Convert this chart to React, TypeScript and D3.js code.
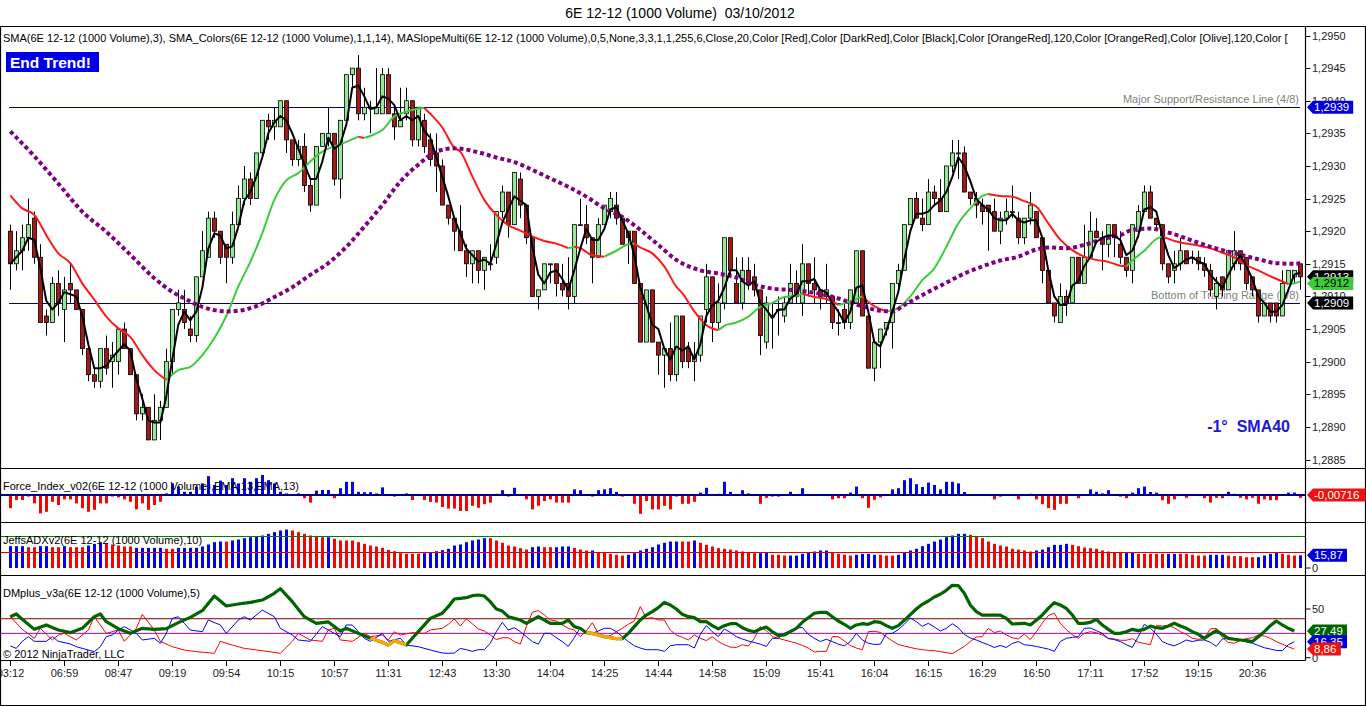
import * as d3 from 'd3';

const W = 1366;
const H = 706;
const FONT = "'Liberation Sans', Arial, Helvetica, sans-serif";

// 1000-volume bars, [open, high, low, close]
const candles: [number, number, number, number][] = [
  [1.2920,1.2921,1.2911,1.2915],[1.2915,1.2920,1.2914,1.2917],[1.2917,1.2921,1.2914,1.2919],[1.2919,1.2925,1.2917,1.2921],
  [1.2922,1.2923,1.2915,1.2916],[1.2916,1.2918,1.2906,1.2906],[1.2907,1.2908,1.2904,1.2906],[1.2906,1.2913,1.2906,1.2912],
  [1.2912,1.2914,1.2907,1.2909],[1.2908,1.2913,1.2903,1.2911],[1.2912,1.2915,1.2909,1.2911],[1.2911,1.2911,1.2908,1.2908],
  [1.2908,1.2908,1.2901,1.2902],[1.2902,1.2902,1.2897,1.2898],[1.2898,1.2899,1.2896,1.2897],[1.2897,1.2902,1.2896,1.2902],
  [1.2902,1.2904,1.2898,1.2899],[1.2900,1.2903,1.2896,1.2901],[1.2900,1.2905,1.2898,1.2905],[1.2905,1.2906,1.2902,1.2902],
  [1.2902,1.2902,1.2898,1.2898],[1.2898,1.2898,1.2891,1.2892],[1.2892,1.2895,1.2891,1.2893],[1.2893,1.2893,1.2888,1.2888],
  [1.2888,1.2895,1.2888,1.2891],[1.2891,1.2894,1.2888,1.2893],[1.2893,1.2902,1.2893,1.2900],[1.2900,1.2908,1.2898,1.2908],
  [1.2908,1.2911,1.2907,1.2909],[1.2908,1.2911,1.2905,1.2906],[1.2905,1.2907,1.2903,1.2904],[1.2904,1.2913,1.2903,1.2913],
  [1.2913,1.2920,1.2913,1.2917],[1.2916,1.2923,1.2916,1.2922],[1.2922,1.2923,1.2919,1.2920],[1.2920,1.2920,1.2915,1.2916],
  [1.2918,1.2918,1.2912,1.2916],[1.2916,1.2923,1.2915,1.2921],[1.2921,1.2927,1.2921,1.2925],[1.2925,1.2930,1.2924,1.2928],
  [1.2928,1.2929,1.2924,1.2925],[1.2925,1.2932,1.2925,1.2932],[1.2932,1.2937,1.2932,1.2937],[1.2937,1.2938,1.2934,1.2936],
  [1.2936,1.2939,1.2934,1.2937],[1.2936,1.2940,1.2936,1.2940],[1.2940,1.2940,1.2932,1.2934],[1.2934,1.2934,1.2930,1.2931],
  [1.2931,1.2934,1.2930,1.2933],[1.2933,1.2935,1.2926,1.2927],[1.2927,1.2928,1.2923,1.2924],[1.2924,1.2933,1.2924,1.2933],
  [1.2933,1.2935,1.2933,1.2935],[1.2934,1.2939,1.2933,1.2935],[1.2935,1.2935,1.2927,1.2928],[1.2928,1.2937,1.2925,1.2937],
  [1.2937,1.2944,1.2937,1.2944],[1.2944,1.2945,1.2942,1.2945],[1.2945,1.2947,1.2937,1.2938],[1.2938,1.2942,1.2937,1.2939],
  [1.2939,1.2940,1.2935,1.2939],[1.2938,1.2945,1.2938,1.2939],[1.2938,1.2945,1.2938,1.2944],[1.2944,1.2945,1.2938,1.2938],
  [1.2938,1.2939,1.2934,1.2936],[1.2936,1.2942,1.2936,1.2937],[1.2938,1.2942,1.2937,1.2940],[1.2940,1.2940,1.2933,1.2934],
  [1.2934,1.2939,1.2933,1.2939],[1.2937,1.2938,1.2932,1.2933],[1.2934,1.2935,1.2930,1.2931],[1.2932,1.2935,1.2926,1.2930],
  [1.2930,1.2931,1.2924,1.2924],[1.2924,1.2924,1.2921,1.2922],[1.2922,1.2922,1.2917,1.2920],[1.2920,1.2924,1.2917,1.2917],
  [1.2917,1.2918,1.2913,1.2915],[1.2915,1.2917,1.2912,1.2917],[1.2917,1.2917,1.2912,1.2914],[1.2914,1.2916,1.2911,1.2916],
  [1.2915,1.2918,1.2914,1.2915],[1.2916,1.2923,1.2915,1.2923],[1.2923,1.2927,1.2922,1.2926],[1.2926,1.2926,1.2919,1.2921],
  [1.2921,1.2929,1.2921,1.2929],[1.2928,1.2929,1.2922,1.2924],[1.2924,1.2924,1.2918,1.2919],[1.2919,1.2919,1.2910,1.2910],
  [1.2910,1.2911,1.2908,1.2911],[1.2911,1.2915,1.2911,1.2915],[1.2915,1.2915,1.2912,1.2915],[1.2915,1.2915,1.2910,1.2912],
  [1.2912,1.2915,1.2910,1.2911],[1.2912,1.2916,1.2908,1.2910],[1.2910,1.2921,1.2909,1.2921],[1.2921,1.2925,1.2921,1.2921],
  [1.2921,1.2924,1.2918,1.2919],[1.2919,1.2919,1.2912,1.2916],[1.2916,1.2922,1.2916,1.2921],[1.2921,1.2924,1.2921,1.2924],
  [1.2923,1.2926,1.2922,1.2925],[1.2924,1.2926,1.2921,1.2922],[1.2922,1.2922,1.2918,1.2918],[1.2920,1.2920,1.2915,1.2919],
  [1.2920,1.2920,1.2912,1.2912],[1.2912,1.2912,1.2903,1.2903],[1.2903,1.2911,1.2903,1.2911],[1.2911,1.2911,1.2903,1.2903],
  [1.2903,1.2903,1.2898,1.2901],[1.2901,1.2902,1.2896,1.2902],[1.2902,1.2906,1.2897,1.2898],[1.2898,1.2907,1.2897,1.2907],
  [1.2907,1.2907,1.2899,1.2900],[1.2902,1.2903,1.2899,1.2900],[1.2900,1.2903,1.2897,1.2901],[1.2901,1.2907,1.2900,1.2907],
  [1.2908,1.2915,1.2906,1.2913],[1.2913,1.2913,1.2903,1.2906],[1.2906,1.2912,1.2905,1.2909],[1.2909,1.2919,1.2908,1.2919],
  [1.2919,1.2919,1.2913,1.2914],[1.2912,1.2916,1.2909,1.2909],[1.2909,1.2916,1.2908,1.2914],[1.2914,1.2916,1.2911,1.2912],
  [1.2913,1.2915,1.2910,1.2911],[1.2911,1.2911,1.2901,1.2904],[1.2903,1.2910,1.2902,1.2909],[1.2907,1.2909,1.2902,1.2907],
  [1.2908,1.2910,1.2904,1.2908],[1.2907,1.2910,1.2906,1.2909],[1.2909,1.2915,1.2909,1.2912],[1.2912,1.2914,1.2909,1.2910],
  [1.2909,1.2918,1.2907,1.2915],[1.2915,1.2915,1.2910,1.2912],[1.2912,1.2916,1.2909,1.2911],[1.2911,1.2911,1.2908,1.2910],
  [1.2910,1.2915,1.2909,1.2911],[1.2910,1.2910,1.2905,1.2906],[1.2906,1.2908,1.2904,1.2906],[1.2908,1.2909,1.2905,1.2906],
  [1.2906,1.2911,1.2905,1.2911],[1.2909,1.2917,1.2909,1.2917],[1.2917,1.2917,1.2907,1.2907],[1.2907,1.2907,1.2899,1.2899],
  [1.2899,1.2903,1.2897,1.2903],[1.2903,1.2905,1.2899,1.2905],[1.2905,1.2906,1.2904,1.2906],[1.2906,1.2912,1.2902,1.2912],
  [1.2912,1.2915,1.2911,1.2914],[1.2914,1.2921,1.2914,1.2921],[1.2921,1.2925,1.2921,1.2925],[1.2925,1.2926,1.2922,1.2922],
  [1.2922,1.2925,1.2920,1.2921],[1.2921,1.2928,1.2921,1.2926],[1.2926,1.2927,1.2924,1.2925],[1.2925,1.2928,1.2923,1.2923],
  [1.2923,1.2930,1.2923,1.2930],[1.2930,1.2934,1.2929,1.2932],[1.2932,1.2934,1.2928,1.2932],[1.2932,1.2933,1.2926,1.2926],
  [1.2926,1.2926,1.2924,1.2925],[1.2925,1.2926,1.2922,1.2924],[1.2924,1.2925,1.2921,1.2923],[1.2924,1.2924,1.2917,1.2923],
  [1.2923,1.2925,1.2920,1.2920],[1.2920,1.2923,1.2918,1.2922],[1.2922,1.2925,1.2921,1.2923],[1.2923,1.2927,1.2922,1.2923],
  [1.2922,1.2923,1.2918,1.2919],[1.2919,1.2922,1.2918,1.2922],[1.2922,1.2926,1.2921,1.2924],[1.2923,1.2923,1.2919,1.2919],
  [1.2919,1.2919,1.2912,1.2914],[1.2914,1.2914,1.2909,1.2909],[1.2909,1.2909,1.2906,1.2907],[1.2906,1.2912,1.2906,1.2910],
  [1.2910,1.2911,1.2907,1.2909],[1.2909,1.2916,1.2909,1.2916],[1.2916,1.2916,1.2912,1.2912],[1.2912,1.2921,1.2912,1.2916],
  [1.2916,1.2923,1.2916,1.2920],[1.2920,1.2922,1.2919,1.2919],[1.2919,1.2920,1.2914,1.2918],[1.2918,1.2921,1.2916,1.2921],
  [1.2921,1.2921,1.2916,1.2919],[1.2918,1.2920,1.2915,1.2916],[1.2916,1.2916,1.2913,1.2914],[1.2914,1.2921,1.2912,1.2921],
  [1.2920,1.2924,1.2919,1.2923],[1.2923,1.2927,1.2923,1.2926],[1.2926,1.2927,1.2922,1.2922],[1.2922,1.2922,1.2920,1.2921],
  [1.2921,1.2921,1.2914,1.2915],[1.2915,1.2915,1.2912,1.2913],[1.2914,1.2917,1.2912,1.2915],[1.2915,1.2919,1.2914,1.2917],
  [1.2917,1.2917,1.2915,1.2915],[1.2916,1.2917,1.2915,1.2916],[1.2916,1.2917,1.2914,1.2915],[1.2915,1.2916,1.2913,1.2914],
  [1.2914,1.2915,1.2910,1.2911],[1.2910,1.2913,1.2908,1.2912],[1.2913,1.2913,1.2910,1.2911],[1.2911,1.2917,1.2911,1.2917],
  [1.2915,1.2920,1.2914,1.2917],[1.2917,1.2917,1.2914,1.2915],[1.2916,1.2916,1.2911,1.2912],[1.2913,1.2913,1.2910,1.2911],
  [1.2911,1.2911,1.2906,1.2907],[1.2907,1.2909,1.2907,1.2909],[1.2909,1.2909,1.2906,1.2907],[1.2909,1.2909,1.2906,1.2907],
  [1.2907,1.2914,1.2907,1.2912],[1.2912,1.2914,1.2912,1.2914],[1.2913,1.2914,1.2912,1.2914],[1.2915,1.2915,1.2911,1.2913],
];

// SMA_Colors (14) line, read as [bar, price]
const maLine: [number, number][] = [
  [0,1.29255],[2,1.29235],[4,1.29225],[6,1.29194],[8,1.29166],[10,1.29151],[12,1.2912],[14,1.29095],[16,1.29069],
  [18,1.29051],[20,1.29038],[22,1.2901],[24,1.28987],[26,1.28972],[28,1.28987],[30,1.28992],[32,1.2901],[34,1.29036],
  [36,1.2907],[38,1.29115],[40,1.29153],[42,1.29197],[44,1.29248],[46,1.29278],[48,1.29289],[50,1.29307],[52,1.29322],
  [54,1.2933],[56,1.29337],[58,1.29345],[59,1.29343],[60,1.29346],[62,1.29355],[64,1.29376],[66,1.29383],[68,1.29388],
  [69,1.29389],[70,1.2938],[72,1.29359],[74,1.29328],[75,1.29322],[77,1.29284],[79,1.29248],[81,1.29225],[83,1.29209],
  [85,1.29201],[87,1.29192],[89,1.29185],[91,1.29181],[93,1.29174],[94,1.29176],[95,1.29174],[97,1.29163],[99,1.29161],
  [101,1.2917],[103,1.2918],[104,1.29181],[105,1.29175],[107,1.29166],[109,1.29146],[111,1.29115],[112,1.29105],
  [114,1.29077],[116,1.29056],[118,1.29048],[119,1.29055],[121,1.2906],[123,1.29069],[125,1.29084],[127,1.2909],
  [129,1.29099],[131,1.29101],[132,1.29104],[134,1.29099],[136,1.29096],[138,1.29087],[140,1.29092],[142,1.291],
  [144,1.29085],[146,1.29077],[148,1.29082],[150,1.291],[152,1.29125],[154,1.29143],[156,1.29176],[158,1.29212],
  [160,1.29235],[162,1.29254],[163,1.29257],[165,1.29254],[167,1.29253],[169,1.29246],[171,1.29238],[173,1.29212],
  [175,1.29187],[177,1.29171],[179,1.29161],[181,1.29156],[183,1.29153],[185,1.29147],[186,1.29146],[187,1.29155],
  [189,1.2917],[191,1.29188],[192,1.29192],[194,1.29185],[196,1.29181],[198,1.29178],[200,1.29174],[202,1.29167],
  [204,1.2916],[206,1.29148],[208,1.2914],[210,1.29131],[212,1.29123],[213,1.29119],[214,1.2912],[215,1.29123],
];

// MASlopeMulti slow average (purple dots), [bar, price]
const slowMa: [number, number][] = [
  [0,1.29353],[4,1.29315],[8,1.29273],[12,1.2923],[16,1.29199],[20,1.29164],[24,1.29128],[27,1.29107],[29,1.29097],
  [32,1.29084],[34,1.29079],[36,1.29077],[38,1.29078],[41,1.29085],[44,1.29099],[47,1.29114],[50,1.29133],[53,1.29151],
  [56,1.29176],[59,1.29207],[62,1.2924],[65,1.29276],[68,1.29302],[71,1.29322],[74,1.29327],[78,1.29321],[81,1.29313],
  [84,1.29306],[87,1.29294],[90,1.29281],[93,1.29268],[96,1.29253],[99,1.29235],[102,1.29222],[105,1.29202],[108,1.29179],
  [111,1.29156],[115,1.2914],[118,1.29135],[121,1.29129],[124,1.29118],[127,1.29112],[130,1.2911],[133,1.29107],
  [136,1.29102],[139,1.29094],[142,1.29085],[145,1.29078],[147,1.29077],[149,1.29087],[150,1.29092],[153,1.29107],
  [156,1.29121],[159,1.29135],[162,1.29146],[165,1.29155],[168,1.29161],[171,1.29172],[173,1.29175],[176,1.29174],
  [179,1.29179],[182,1.29188],[185,1.29194],[187,1.29202],[190,1.29204],[193,1.29198],[196,1.29189],[199,1.29179],
  [202,1.29171],[205,1.29164],[208,1.29157],[211,1.29151],[214,1.2915],[215,1.29151],
];

const priceTicks = [1.2885, 1.289, 1.2895, 1.29, 1.2905, 1.291, 1.2915, 1.292, 1.2925, 1.293, 1.2935, 1.294, 1.2945, 1.295];
const majorLevel = 1.2939;
const bottomLevel = 1.2909;

const forceIdx: number[] = [
  -0.033,-0.0125,-0.0125,-0.004,-0.021,-0.046,-0.042,-0.017,-0.025,-0.011,-0.011,-0.021,-0.033,-0.042,-0.037,-0.021,
  -0.021,-0.004,-0.006,-0.011,-0.017,-0.036,-0.021,-0.037,-0.025,-0.017,0.004,0.029,0.021,0.008,0.008,0.021,
  0.029,0.047,0.025,0.036,0.025,0.042,0.029,0.042,0.033,0.042,0.05,0.037,0.029,0.008,0.004,0.001,
  0.004,-0.008,-0.019,0.011,0.0125,0.0125,-0.008,0.017,0.033,0.033,0.008,0.007,0.007,0.004,0.019,-0.001,
  -0.004,-0.001,0.004,-0.0125,-0.001,-0.0125,-0.017,-0.019,-0.03,-0.034,-0.034,-0.04,-0.04,-0.027,-0.032,-0.023,
  -0.019,0.003,0.012,-0.004,0.018,0,-0.011,-0.036,-0.027,-0.015,-0.011,-0.019,-0.019,-0.019,0.014,0.012,
  0,-0.004,0.012,0.014,0.017,0.0075,-0.004,-0.001,-0.022,-0.047,-0.015,-0.036,-0.036,-0.027,-0.036,-0.004,
  -0.022,-0.022,-0.017,0.006,0.018,0,0.003,0.033,0.008,0,0.012,0.004,0,-0.022,-0.007,-0.004,
  -0.004,0,0.008,0,0.017,0.001,0.001,0.001,0.001,-0.011,-0.008,-0.008,0.006,0.021,-0.008,-0.032,
  -0.012,-0.006,0,0.014,0.017,0.037,0.042,0.027,0.02,0.031,0.025,0.014,0.033,0.033,0.029,0.0075,
  0.001,0.001,0,0,-0.011,-0.004,0,0.001,-0.011,0,0.003,-0.011,-0.023,-0.033,-0.037,-0.022,
  -0.022,0,-0.008,0,0.014,0.008,0.004,0.012,0,-0.004,-0.008,0.006,0.017,0.021,0.0075,0.006,
  -0.013,-0.022,-0.011,0,-0.007,0,0,-0.008,-0.019,-0.007,-0.008,0.008,0.003,-0.007,-0.011,-0.007,
  -0.022,-0.011,-0.013,-0.013,0,0.006,0.006,-0.00716,
];

const adxBars: number[] = [
  27.3,27.3,27.3,26,26,27.3,27.3,26,26,27.3, 26,26,26,28.1,30.2,32.3,31,29.4,28.1,26.9,
  26.9,25.2,25.2,25.2,25.2,25.2,24,24,25.2,25.2, 25.2,25.2,26.9,29.4,32.3,33.1,33.1,34.4,35.6,37.3,
  38.5,39.8,40.6,42.7,44.8,46.9,48.1,46.9,44.8,42.7, 40.6,39.4,38.5,38.5,36.5,34.4,34.4,34.4,32.3,30.2,
  28.1,26.9,25.2,22.7,21,18.5,17.7,17.7,17.7,18.5, 19.8,21,22.3,24,28.1,29.4,32.3,34.4,35.6,37.3,
  37.3,34.4,31.5,28.1,26.9,24.8,23.1,26,26.9,26, 26,26,26.9,26.9,25.2,23.1,21.9,21.9,19.8,19.8,
  17.7,16.5,15.6,16.5,18.5,21.9,24,26,29.4,31.5, 33.1,33.1,33.1,33.1,34.4,31.5,29,26.9,24.8,24,
  23.1,21.9,20.6,19.8,18.5,18.5,19,16.5,16.5,15.6, 15.6,15.6,17.7,19,20.6,21.9,21.9,19.8,17.7,16.5,
  15.6,16.5,17.7,17.7,16.5,16.5,15.6,15.6,16.5,19, 21.9,24,27.3,30.2,33.1,35.6,38.5,40.6,42.7,42.7,
  41.5,39.4,37.3,33.1,30.2,28.1,26.9,24,23.1,21.9, 20.6,21.9,23.1,26,28.9,28.9,30.2,28.9,27.3,25.6,
  24.8,24,21.9,20.6,19.8,19,19,19,17.7,17.7, 17.7,17.7,17.7,17.7,17.7,17.7,17.7,16.5,15.6,15.6,
  16.5,16.5,16.5,15.6,14.9,14.9,13.5,13.5,13.5,15.6, 17.7,19,17.7,16.5,15.6,15.87,
];
// b = blue bar, r = red bar
const adxColors =
  'bbbrrbbrrb' + 'rrrbbbrrrr' + 'rbbbbbrrbb' + 'bbbbbbrbbb' + 'bbbbbbbrrr' + 'rrrbrrrrrr' + 'rrrrrrrrrb' +
  'bbbbbbbbbb' + 'rrrrrrrbbr' + 'rbbbrrrbrr' + 'rrrbbbbbbb' + 'bbrrbrrrrr' + 'rrrrrbbrrr' + 'bbbbbbbrrr' +
  'rbbbbrrrbb' + 'bbbbbbbbbb' + 'rrrrrrrrrr' + 'rbbbbbbrrr' + 'rrrrrrbbrr' + 'rrrbbrrrrr' + 'bbbrrrrrbb' + 'bbrrrb';

// DMplus_v3a lines, [bar, value]
const dmAdx: [number, number][] = [
  [0,42.1],[1,44.9],[2,39.4],[4,29.1],[6,33.6],[8,28.4],[10,25.7],[12,30.2],[14,42.1],[15,44.9],[16,37],[18,29.8],
  [20,25],[22,30.2],[24,29.1],[26,29.8],[28,36],[30,41.4],[32,48.3],[34,63.3],[36,53.1],[38,55.1],[40,56.8],[42,59.2],
  [44,66.1],[45,70.9],[47,57.5],[49,42.1],[51,35.3],[53,36.7],[55,27.4],[56,30.2],[58,25],[60,19.9],[62,15.8],
  [63,13],[64,17.5],[65,15.4],[66,13],[68,26.7],[70,40.4],[72,45.6],[73,52.4],[74,60.3],[75,61],[76,61.6],[77,63.7],
  [78,64.4],[79,63.3],[80,57.5],[81,50],[82,47.9],[83,42.1],[84,40.4],[85,38.7],[86,35.3],[87,38.7],[88,42.1],
  [89,38.7],[90,35.3],[91,35.3],[92,35.3],[93,38.7],[94,31.9],[95,30.2],[96,25.7],[97,25],[98,23.3],[99,21.6],
  [100,20.6],[101,19.5],[102,19.5],[103,25],[104,31.9],[105,38.7],[106,43.8],[107,47.3],[108,51.4],[109,56.8],
  [110,54.1],[111,50],[112,44.5],[113,42.1],[114,41.1],[115,37],[116,37],[117,32.9],[118,29.5],[119,32.9],[120,34.9],
  [121,34.9],[122,30.8],[123,28.1],[124,26.7],[125,29.5],[126,31.5],[127,26.7],[128,22.6],[129,23.3],[130,26.7],
  [131,30.2],[132,36.3],[133,41.1],[134,45.6],[135,46.6],[136,46.6],[137,42.1],[138,37.7],[139,34.3],[140,30.2],
  [141,33.6],[142,34.9],[143,34.3],[144,37],[145,36.3],[146,32.9],[147,30.2],[148,32.9],[149,38.4],[150,44.2],
  [151,50],[152,54.8],[153,58.2],[154,62.3],[155,65.1],[156,69.2],[157,74.3],[158,74],[159,66.1],[160,54.1],
  [161,47.3],[162,43.8],[163,43.8],[164,43.8],[165,43.8],[166,40.4],[167,34.6],[168,34.9],[169,35.3],[170,33.6],
  [171,38.4],[172,43.8],[173,50.7],[174,56.5],[175,54.1],[176,50.7],[177,43.8],[178,35.3],[179,35.3],[180,36.3],
  [181,39.4],[182,33.6],[183,29.1],[184,25],[185,25],[186,26.7],[187,29.1],[188,27.8],[189,29.1],[190,32.5],
  [191,30.8],[192,30.2],[193,32.5],[194,35.3],[195,32.5],[196,30.2],[197,26.7],[198,24],[199,19.9],[200,24],
  [201,27.8],[202,24],[203,19.9],[204,18.9],[205,18.2],[206,17.5],[207,16.5],[208,21.6],[209,26.7],[210,32.9],
  [211,37.7],[212,33.6],[213,30.2],[214,27.49],
];
const dmWeak: [number, number][] = [[60, 66], [96, 102]];

const diPlus: [number, number][] = [
  [0,12],[1,9.6],[2,16.8],[3,21.6],[4,16.8],[6,16.8],[7,21.6],[8,16.8],[10,14.1],[11,11.3],[13,7.9],[14,6.2],
  [15,11.3],[16,21.6],[17,23.3],[18,28.4],[19,31.9],[21,25],[22,18.2],[24,19.9],[25,14.8],[26,25],[27,40.4],
  [28,42.1],[29,35.3],[30,28.4],[32,26.7],[33,38.7],[35,33.6],[36,25],[38,38.7],[39,42.1],[40,38.7],[42,48.9],
  [44,42.1],[45,30.2],[47,23.3],[48,18.2],[50,16.8],[52,31.9],[54,25],[55,21.6],[56,33.6],[57,33.6],[59,19.9],
  [60,16.8],[62,25],[63,16.8],[65,19.9],[66,13],[68,11.3],[70,7.9],[72,4.8],[73,4.5],[74,4.8],[75,9.5],[76,8.2],
  [77,6.5],[78,8.2],[79,8.2],[80,14.9],[81,26.7],[82,36.3],[83,28.4],[84,30.8],[85,26.7],[86,21.6],[87,16.6],
  [88,13.9],[89,25],[90,25],[91,20.5],[92,16.6],[93,11.6],[94,20.5],[95,30.8],[96,25],[97,25],[98,27.4],[99,30.2],
  [100,30.2],[101,26.7],[102,21.6],[103,16.6],[104,12.2],[105,9.9],[106,8.2],[107,8.2],[108,8.2],[109,6.5],
  [110,12.2],[111,13.3],[112,13.3],[113,13.3],[114,9.9],[115,23.9],[116,32.9],[117,26.7],[118,21.6],[119,29.5],
  [120,26],[121,21.6],[122,19.2],[123,17.2],[124,15.6],[125,13.9],[126,11.6],[127,19.9],[128,19.9],[129,25],
  [130,27.8],[131,30.2],[132,31.2],[133,23.9],[134,19.9],[135,16.6],[136,18.9],[137,16.6],[138,13.9],[139,12.2],
  [140,16.6],[141,25],[142,18.2],[143,14.9],[144,13.6],[145,13.9],[146,24.6],[147,25],[148,28.8],[149,34.3],
  [150,40.8],[151,37],[152,32.2],[153,35.3],[154,31.5],[155,27.4],[156,30.2],[157,34.9],[158,30.8],[159,23.9],
  [160,20.2],[161,18.2],[162,15.6],[163,13.3],[164,10.5],[165,12.6],[166,10.5],[167,14.6],[168,16.6],[169,13.3],
  [170,12.6],[171,11.6],[172,10.2],[173,8.9],[174,6.5],[175,16.6],[176,19.9],[177,20.9],[178,21.6],[179,30.2],
  [180,30.5],[181,27.8],[182,25],[183,19.6],[184,18.6],[185,16.6],[186,13.3],[187,10.5],[188,21.6],[189,34.3],
  [190,30.2],[191,24.3],[192,16.6],[193,13.9],[194,12.2],[195,14.9],[196,18.2],[197,16.6],[198,17.9],[199,18.2],
  [200,15.9],[201,11.6],[202,19.2],[203,19.9],[204,19.9],[205,18.2],[206,16.2],[207,14.9],[208,12.6],[209,10.2],
  [210,8.9],[211,7.5],[212,7.2],[213,13.3],[214,16.35],
];

const diMinus: [number, number][] = [
  [0,42.1],[2,29.1],[4,19.9],[5,30.2],[7,18.2],[8,23.3],[9,25],[11,18.2],[13,28.4],[14,42.1],[16,25],[18,28.4],
  [19,16.8],[21,30.2],[22,44.5],[24,28.4],[25,16.8],[27,11.3],[29,7.9],[31,6.2],[34,4.5],[35,16.8],[37,13],[39,9.6],
  [42,7.2],[45,4.5],[47,16.8],[48,25],[50,18.2],[52,16.8],[53,28.4],[54,30.2],[55,18.2],[57,16.8],[59,25],[60,21.6],
  [62,23.3],[63,18.2],[64,26.7],[65,23.3],[67,25.7],[69,25],[70,28.4],[72,30.2],[73,34.3],[74,39.8],[75,32.6],
  [76,39.8],[77,34.9],[78,29.5],[79,27.4],[80,23.3],[81,18.6],[82,20.5],[83,20.5],[84,16.6],[85,13.9],[86,31.9],
  [87,46.6],[88,48.3],[89,43.9],[90,38.7],[91,37.7],[92,33.6],[93,30.2],[94,28.4],[95,21.6],[96,27.4],[97,36],
  [98,25],[99,20.5],[100,22.6],[101,26.7],[102,30.2],[103,34.3],[104,37.7],[105,52.4],[106,40.4],[107,41.1],
  [108,38.7],[109,38.7],[110,28.4],[111,23.3],[112,20.9],[113,18.2],[114,23.3],[115,19.9],[116,17.6],[117,21.6],
  [118,16.6],[119,13.3],[120,10.9],[121,10.5],[122,13.3],[123,11.9],[124,19.9],[125,31.9],[126,27.8],[127,21.6],
  [128,19.9],[129,18.2],[130,16.6],[131,14.9],[132,12.6],[133,9.9],[134,5.8],[135,6.5],[136,6.5],[137,21.6],
  [138,21.6],[139,17.2],[140,12.6],[141,9.9],[142,8.2],[143,26.7],[144,27.1],[145,26],[146,21.6],[147,17.2],
  [148,13.6],[149,11.9],[150,10.5],[151,9.2],[152,8.2],[153,7.5],[154,7.2],[155,6.2],[156,5.2],[157,4.1],[158,7.9],
  [159,11.6],[160,16.6],[161,21.3],[162,21.6],[163,30.2],[164,25.7],[165,27.4],[166,23.3],[167,20.5],[168,19.2],
  [169,24.3],[170,18.6],[171,26.7],[172,35.6],[173,43.2],[174,45.6],[175,35.3],[176,28.8],[177,23.6],[178,19.9],
  [179,25],[180,26.7],[181,25.7],[182,23.3],[183,19.9],[184,19.2],[185,17.9],[186,17.9],[187,19.6],[188,15.9],
  [189,14.6],[190,13.3],[191,32.9],[192,32.6],[193,32.9],[194,30.8],[195,26.7],[196,23.9],[197,19.9],[198,18.9],
  [199,19.9],[200,29.5],[201,30.2],[202,20.9],[203,15.6],[204,14.9],[205,17.6],[206,19.6],[207,20.5],[208,23.3],
  [209,22.3],[210,19.9],[211,16.6],[212,13.9],[213,11.2],[214,8.86],
];

const timeLabels = [
  '03:12', '06:59', '08:47', '09:19', '09:54', '10:15', '10:57', '11:31', '12:43', '13:30', '14:04', '14:25',
  '14:44', '14:58', '15:09', '15:41', '16:04', '16:15', '16:29', '16:50', '17:11', '17:52', '19:15', '20:36',
];
const labelEvery = 9;

const mainLabel =
  'SMA(6E 12-12 (1000 Volume),3), SMA_Colors(6E 12-12 (1000 Volume),1,1,14), MASlopeMulti(6E 12-12 (1000 Volume),0,5,None,3,3,1,1,255,6,Close,20,Color [Red],Color [DarkRed],Color [Black],Color [OrangeRed],120,Color [OrangeRed],Color [Olive],120,Color [';

const comma = (v: number, d: number) => v.toFixed(d).replace('.', ',');

function Tag({ y, label, fill, color = '#fff' }: { y: number; label: string; fill: string; color?: string }) {
  const x0 = 1307;
  const w = 9 + label.length * 6.2;
  return (
    <g>
      <path d={`M${x0},${y} L${x0 + 6},${y - 6.5} L${x0 + w},${y - 6.5} L${x0 + w},${y + 6.5} L${x0 + 6},${y + 6.5} Z`} fill={fill} />
      <text x={x0 + 7} y={y + 4} fontSize={11.5} fill={color}>{label}</text>
    </g>
  );
}

export default function App() {
  const x = d3.scaleLinear().domain([0, 215]).range([10.3, 1300.3]);
  const yPrice = d3.scaleLinear().domain([1.2885, 1.295]).range([459.5, 35.5]);
  const yForce = d3.scaleLinear().domain([-0.0675, 0.0675]).range([522, 468]);
  const yAdx = d3.scaleLinear().domain([0, 50]).range([568, 528]);
  const yDm = d3.scaleLinear().domain([0, 50]).range([657.7, 609]);

  const px = (i: number) => Math.round(x(i)) + 0.5;

  const closes = candles.map((c) => c[3]);
  const sma3 = closes.map((_, i) => d3.mean(closes.slice(Math.max(0, i - 2), i + 1)) as number);
  const blackLine = d3.line<number>().x((_, i) => x(i)).y((d) => yPrice(d));

  const priceLine = d3.line<[number, number]>().x((d) => x(d[0])).y((d) => yPrice(d[1])).curve(d3.curveMonotoneX);
  const dmLine = d3.line<[number, number]>().x((d) => x(d[0])).y((d) => yDm(d[1]));

  // split the 14-period line into rising (green) and falling (red) runs
  const runs: { up: boolean; pts: [number, number][] }[] = [];
  for (let i = 0; i < maLine.length - 1; i++) {
    const up = maLine[i + 1][1] > maLine[i][1];
    const last = runs[runs.length - 1];
    if (last && last.up === up) last.pts.push(maLine[i + 1]);
    else runs.push({ up, pts: [maLine[i], maLine[i + 1]] });
  }

  const gray = '#808080';
  const plotR = 1305.5;

  return (
    <div style={{ position: 'absolute', left: 0, top: 0 }}>
      <svg width={W} height={H} style={{ display: 'block', background: '#fff', fontFamily: FONT }}>
        <defs>
          <clipPath id="mainClip"><rect x={1} y={27} width={1304} height={441} /></clipPath>
          <clipPath id="axisClip"><rect x={1} y={660} width={1310} height={40} /></clipPath>
        </defs>

        <text x={680} y={18} fontSize={14} textAnchor="middle" fill="#000" style={{ whiteSpace: 'pre' }}>
          {'6E 12-12 (1000 Volume)  03/10/2012'}
        </text>

        {/* main price panel */}
        <g clipPath="url(#mainClip)">
          <line x1={9} x2={1300} y1={Math.round(yPrice(majorLevel)) + 0.5} y2={Math.round(yPrice(majorLevel)) + 0.5} stroke="#000080" />
          <line x1={9} x2={1300} y1={Math.round(yPrice(bottomLevel)) + 0.5} y2={Math.round(yPrice(bottomLevel)) + 0.5} stroke="#000080" />
          <text x={1299} y={yPrice(majorLevel) - 4} fontSize={11} fill={gray} textAnchor="end">Major Support/Resistance Line (4/8)</text>
          <text x={1299} y={yPrice(bottomLevel) - 4} fontSize={11} fill={gray} textAnchor="end">Bottom of Trading Range (0/8)</text>

          {candles.map((c, i) => {
            const [o, h, l, cl] = c;
            const up = cl >= o;
            const top = yPrice(Math.max(o, cl));
            const bh = Math.max(1, Math.abs(yPrice(o) - yPrice(cl)));
            return (
              <g key={i}>
                <line x1={px(i)} x2={px(i)} y1={yPrice(h)} y2={yPrice(l)} stroke="#000" strokeWidth={1} />
                <rect x={px(i) - 2} y={top} width={4} height={bh} fill={up ? '#98e698' : '#a11a1a'} stroke="#000" strokeWidth={0.8} />
              </g>
            );
          })}

          {runs.map((r, i) => (
            <path key={i} d={priceLine(r.pts) ?? ''} fill="none" stroke={r.up ? '#3ccb3c' : '#ff1a1a'} strokeWidth={2} />
          ))}
          <path d={priceLine(slowMa) ?? ''} fill="none" stroke="#800080" strokeWidth={4} strokeDasharray="4 3" />
          <path d={blackLine(sma3) ?? ''} fill="none" stroke="#000" strokeWidth={2} strokeLinejoin="round" />

          <text x={3} y={42} fontSize={11} fill="#000">{mainLabel}</text>
          <rect x={6} y={52} width={93} height={20} fill="#0000e6" />
          <text x={10} y={68} fontSize={15.5} fontWeight="bold" fill="#fff">End Trend!</text>
          <text x={1290} y={432} fontSize={16} fontWeight="bold" fill="#1a1acc" textAnchor="end" style={{ whiteSpace: 'pre' }}>
            {'-1°  SMA40'}
          </text>
        </g>

        {/* Force index panel */}
        {forceIdx.map((v, i) => (
          <rect key={i} x={px(i) - 1.5} width={3} y={Math.min(yForce(v), yForce(0))} height={Math.abs(yForce(v) - yForce(0))}
            fill={v >= 0 ? '#0000ff' : '#ff0000'} />
        ))}
        <line x1={0} x2={plotR} y1={yForce(0)} y2={yForce(0)} stroke="#000080" strokeWidth={2} />
        <text x={3} y={490} fontSize={11} fill="#000">Force_Index_v02(6E 12-12 (1000 Volume),EMA,13,EMA,13)</text>

        {/* ADX panel */}
        {adxBars.map((v, i) => (
          <rect key={i} x={px(i) - 1.5} width={3} y={yAdx(v)} height={yAdx(0) - yAdx(v)}
            fill={adxColors[i] === 'b' ? '#0000ff' : '#ff0000'} />
        ))}
        <line x1={0} x2={plotR} y1={yAdx(40) + 0.5} y2={yAdx(40) + 0.5} stroke="#008000" />
        <line x1={0} x2={plotR} y1={yAdx(20) + 0.5} y2={yAdx(20) + 0.5} stroke="#e00000" />
        <text x={3} y={544} fontSize={11} fill="#000">JeffsADXv2(6E 12-12 (1000 Volume),10)</text>

        {/* DM panel */}
        <line x1={0} x2={plotR} y1={yDm(40)} y2={yDm(40)} stroke="#800000" />
        <line x1={0} x2={plotR} y1={yDm(25)} y2={yDm(25)} stroke="#a000d0" />
        <path d={dmLine(diMinus) ?? ''} fill="none" stroke="#ff0000" strokeWidth={1} />
        <path d={dmLine(diPlus) ?? ''} fill="none" stroke="#0000ff" strokeWidth={1} />
        <path d={dmLine(dmAdx) ?? ''} fill="none" stroke="#006400" strokeWidth={3.2} strokeLinejoin="round" />
        {dmWeak.map(([a, b], i) => (
          <path key={i} d={dmLine(dmAdx.filter((p) => p[0] >= a && p[0] <= b)) ?? ''} fill="none" stroke="#ffa500" strokeWidth={3.2} />
        ))}
        <text x={3} y={597} fontSize={11} fill="#000">DMplus_v3a(6E 12-12 (1000 Volume),5)</text>
        <text x={3} y={658} fontSize={11} fill="#000">© 2012 NinjaTrader, LLC</text>

        {/* frame and separators */}
        <g stroke="#000" strokeWidth={1.2} fill="none">
          <line x1={0} x2={W} y1={26.5} y2={26.5} />
          <line x1={0.5} x2={0.5} y1={26.5} y2={705.5} />
          <line x1={W - 0.5} x2={W - 0.5} y1={26.5} y2={705.5} />
          <line x1={0} x2={W} y1={705.5} y2={705.5} />
          <line x1={0} x2={W} y1={468.5} y2={468.5} />
          <line x1={0} x2={W} y1={522.5} y2={522.5} />
          <line x1={0} x2={W} y1={575.5} y2={575.5} />
          <line x1={plotR} x2={plotR} y1={26.5} y2={660.5} />
          <line x1={0} x2={plotR} y1={660.5} y2={660.5} />
        </g>

        {/* price axis */}
        {priceTicks.map((t) => (
          <g key={t}>
            <line x1={plotR} x2={plotR + 5} y1={Math.round(yPrice(t)) + 0.5} y2={Math.round(yPrice(t)) + 0.5} stroke="#000" />
            <text x={1312} y={yPrice(t) + 4} fontSize={11} fill="#222">{comma(t, 4)}</text>
          </g>
        ))}
        <Tag y={yPrice(1.2939)} label="1,2939" fill="#0000e0" />
        <Tag y={yPrice(1.2913)} label="1,2913" fill="#000" />
        <Tag y={yPrice(1.2912)} label="1,2912" fill="#3ccb3c" color="#000" />
        <Tag y={yPrice(1.2909)} label="1,2909" fill="#000" />

        <Tag y={yForce(0)} label="-0,00716" fill="#ee1111" />

        <line x1={plotR} x2={plotR + 5} y1={yAdx(0)} y2={yAdx(0)} stroke="#000" />
        <text x={1312} y={yAdx(0) + 4} fontSize={11} fill="#222">0</text>
        <Tag y={yAdx(15.87)} label="15,87" fill="#0000e0" />

        {[0, 50].map((t) => (
          <g key={t}>
            <line x1={plotR} x2={plotR + 5} y1={yDm(t)} y2={yDm(t)} stroke="#000" />
            <text x={1312} y={yDm(t) + 4} fontSize={11} fill="#222">{t}</text>
          </g>
        ))}
        <Tag y={yDm(27.49)} label="27,49" fill="#006400" />
        <Tag y={yDm(16.35)} label="16,35" fill="#0000e0" />
        <Tag y={yDm(8.86)} label="8,86" fill="#ee1111" />

        {/* time axis */}
        <g clipPath="url(#axisClip)">
          {timeLabels.map((lab, j) => {
            const xi = px(j * labelEvery);
            return (
              <g key={lab}>
                <line x1={xi} x2={xi} y1={660.5} y2={666} stroke="#000" />
                <text x={xi} y={677} fontSize={11} fill="#222" textAnchor="middle">{lab}</text>
              </g>
            );
          })}
        </g>
      </svg>
    </div>
  );
}
